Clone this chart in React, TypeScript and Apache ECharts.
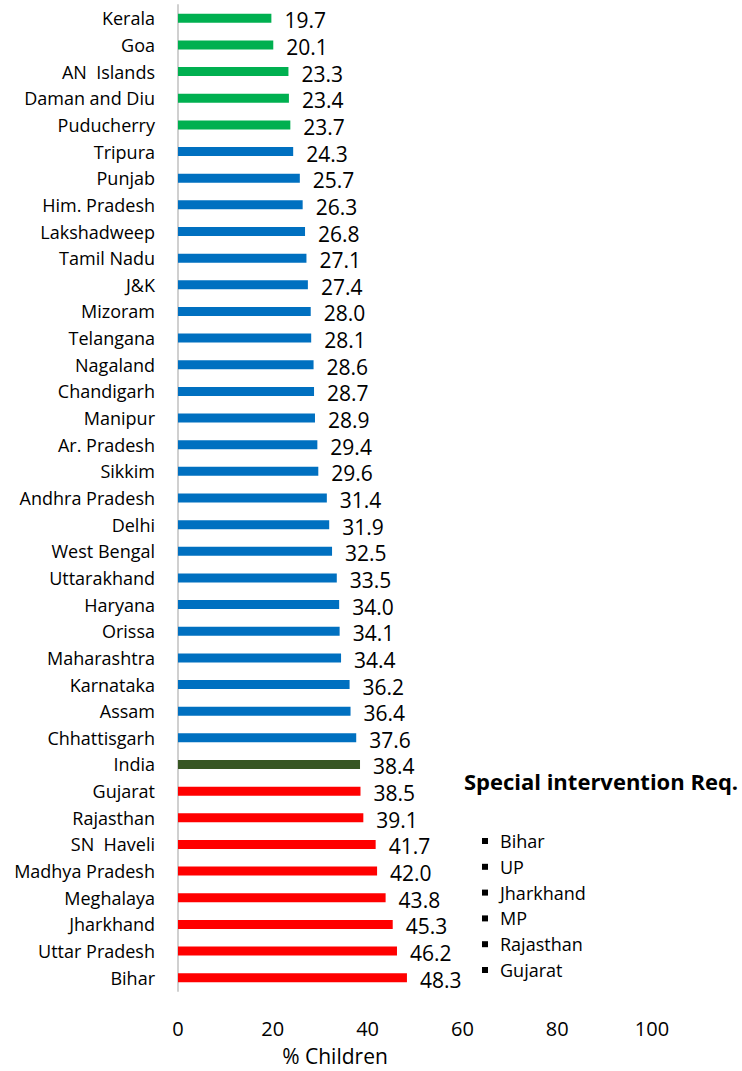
import React, { useEffect, useRef } from "react";
import * as echarts from "echarts";

// States / UTs, top to bottom
const states = [
  "Kerala", "Goa", "AN  Islands", "Daman and Diu", "Puducherry", "Tripura", "Punjab",
  "Him. Pradesh", "Lakshadweep", "Tamil Nadu", "J&K", "Mizoram", "Telangana", "Nagaland",
  "Chandigarh", "Manipur", "Ar. Pradesh", "Sikkim", "Andhra Pradesh", "Delhi", "West Bengal",
  "Uttarakhand", "Haryana", "Orissa", "Maharashtra", "Karnataka", "Assam", "Chhattisgarh",
  "India", "Gujarat", "Rajasthan", "SN  Haveli", "Madhya Pradesh", "Meghalaya", "Jharkhand",
  "Uttar Pradesh", "Bihar",
];

const percentChildren = [
  19.7, 20.1, 23.3, 23.4, 23.7, 24.3, 25.7, 26.3, 26.8, 27.1, 27.4, 28.0, 28.1, 28.6, 28.7,
  28.9, 29.4, 29.6, 31.4, 31.9, 32.5, 33.5, 34.0, 34.1, 34.4, 36.2, 36.4, 37.6, 38.4, 38.5,
  39.1, 41.7, 42.0, 43.8, 45.3, 46.2, 48.3,
];

// low / mid / national / high
const groups = [
  "low", "low", "low", "low", "low",
  "mid", "mid", "mid", "mid", "mid", "mid", "mid", "mid", "mid", "mid", "mid", "mid", "mid",
  "mid", "mid", "mid", "mid", "mid", "mid", "mid", "mid", "mid", "mid",
  "national",
  "high", "high", "high", "high", "high", "high", "high", "high",
];

const groupColors: Record<string, string> = {
  low: "#00B050",
  mid: "#0070C0",
  national: "#375623",
  high: "#FF0000",
};

const xTicks = [0, 20, 40, 60, 80, 100];

const priorityStates = ["Bihar", "UP", "Jharkhand", "MP", "Rajasthan", "Gujarat"];

const FONT = "'Open Sans', 'Noto Sans', sans-serif";

export default function App() {
  const ref = useRef<HTMLDivElement>(null);

  useEffect(() => {
    document.body.style.margin = "0";
    if (!ref.current) return;
    const chart = echarts.init(ref.current, undefined, { renderer: "svg" });

    const bulletElements: any[] = [];
    priorityStates.forEach((name, i) => {
      const y = 841 + i * 25.8;
      bulletElements.push({
        type: "rect",
        shape: { x: 482, y: y - 3, width: 6, height: 6 },
        style: { fill: "#000" },
      });
      bulletElements.push({
        type: "text",
        x: 500,
        y,
        style: {
          text: name,
          fontFamily: FONT,
          fontSize: 18,
          fill: "#000",
          verticalAlign: "middle",
          textAlign: "left",
        },
      });
    });

    chart.setOption({
      animation: false,
      backgroundColor: "#fff",
      textStyle: { fontFamily: FONT },
      grid: { left: 178, right: 90, top: 5, bottom: 80, containLabel: false },
      xAxis: {
        type: "value",
        min: 0,
        max: xTicks[xTicks.length - 1],
        interval: 20,
        axisLine: { show: false },
        axisTick: { show: false },
        splitLine: { show: false },
        axisLabel: { fontSize: 20, color: "#000", margin: 27, fontFamily: FONT },
      },
      yAxis: {
        type: "category",
        data: states,
        inverse: true,
        axisLine: { show: true, lineStyle: { color: "#d0d0d0", width: 2 } },
        axisTick: { show: false },
        axisLabel: { fontSize: 18, color: "#000", margin: 23, fontFamily: FONT },
      },
      series: [
        {
          type: "bar",
          barWidth: 9,
          data: percentChildren.map((v, i) => ({
            value: v,
            itemStyle: { color: groupColors[groups[i]] },
          })),
          label: {
            show: true,
            position: "right",
            distance: 13,
            fontSize: 21,
            color: "#000",
            fontFamily: FONT,
            offset: [0, 2],
            formatter: (p: any) => Number(p.value).toFixed(1),
          },
        },
      ],
      graphic: [
        {
          type: "text",
          x: 335,
          y: 1056,
          style: {
            text: "% Children",
            fontFamily: FONT,
            fontSize: 21,
            fill: "#000",
            textAlign: "center",
            verticalAlign: "middle",
          },
        },
        {
          type: "text",
          x: 601,
          y: 781,
          style: {
            text: "Special intervention Req.",
            fontFamily: FONT,
            fontSize: 22,
            fontWeight: "bold",
            fill: "#000",
            textAlign: "center",
            verticalAlign: "middle",
          },
        },
        ...bulletElements,
      ],
    });

    return () => chart.dispose();
  }, []);

  return <div ref={ref} style={{ width: 742, height: 1071 }} />;
}
